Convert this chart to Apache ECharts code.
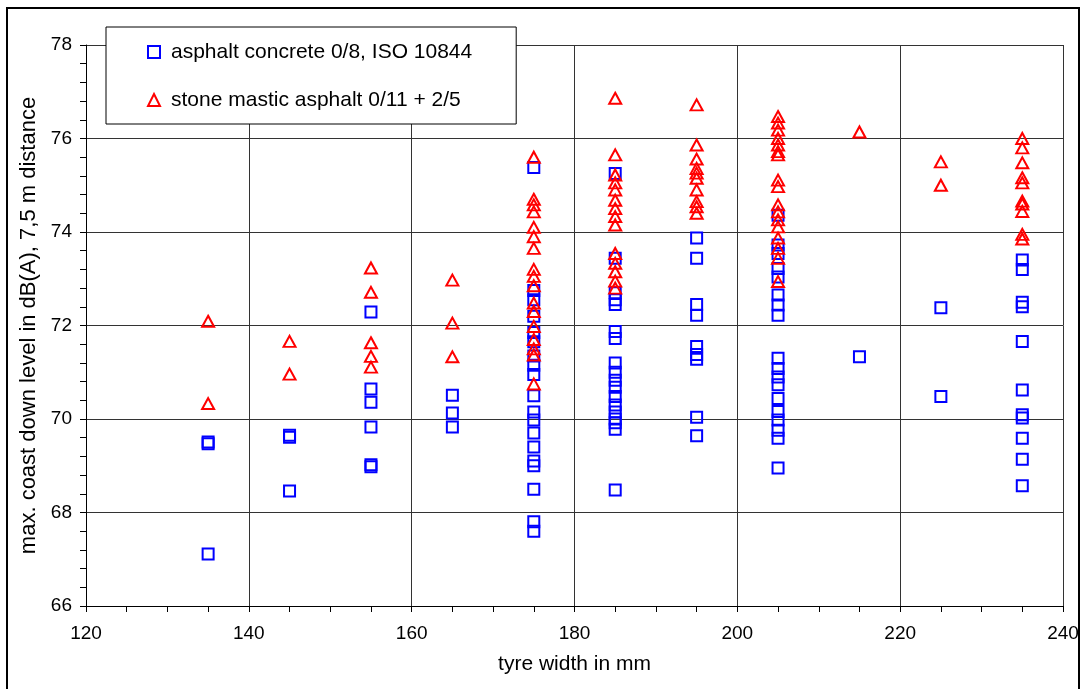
<!DOCTYPE html>
<html lang="en">
<head>
  <meta charset="UTF-8">
  <title>coast down level vs tyre width</title>
  <style>
    html, body { margin: 0; padding: 0; background: #fff; }
  </style>
</head>
<body>
  <div id="main" style="width: 1085px;height:689px;"></div>

  <script src="https://cdn.jsdelivr.net/npm/echarts@6/dist/echarts.min.js"></script>
  <script type="text/javascript">
    // tyre widths (mm) where measurements exist
    const widths = [135, 145, 155, 165, 175, 185, 195, 205, 215, 225, 235];

    // max. coast down level dB(A), read per tyre width
    const concreteLevels = [
      [69.51, 69.47, 67.11],
      [69.65, 69.61, 68.46],
      [72.29, 70.64, 70.36, 69.83, 69.02, 68.98],
      [70.51, 70.13, 69.83],
      [75.38, 72.75, 72.55, 72.2, 71.85, 71.65, 71.35, 71.15, 70.95, 70.5, 70.15, 69.98, 69.7, 69.4, 69.1, 69.0, 68.5, 67.8, 67.6],
      [75.25, 73.44, 72.7, 72.55, 72.45, 71.87, 71.72, 71.2, 71.0, 70.83, 70.68, 70.48, 70.3, 70.15, 70.0, 69.92, 69.78, 68.48],
      [73.87, 73.44, 72.45, 72.22, 71.55, 71.38, 71.28, 70.04, 69.64],
      [74.36, 73.72, 73.54, 73.22, 73.04, 72.65, 72.44, 72.22, 71.3, 71.08, 70.9, 70.73, 70.44, 70.16, 69.98, 69.76, 69.59, 68.95],
      [71.33],
      [72.38, 70.48],
      [73.4, 73.2, 72.5, 72.4, 71.66, 70.62, 70.09, 70.02, 69.59, 69.14, 68.57]
    ];

    const smaLevels = [
      [72.09, 70.33],
      [71.66, 70.96],
      [73.23, 72.71, 71.63, 71.34, 71.11],
      [72.97, 72.05, 71.33],
      [75.6, 74.7, 74.58, 74.43, 74.1, 73.9, 73.65, 73.2, 73.05, 72.85, 72.48, 72.3, 71.98, 71.7, 71.5, 71.37, 70.75],
      [76.86, 75.65, 75.22, 75.05, 74.9, 74.68, 74.5, 74.33, 74.15, 73.54, 73.33, 73.15, 72.95, 72.8],
      [76.72, 75.86, 75.56, 75.36, 75.26, 75.15, 74.9, 74.65, 74.54, 74.4],
      [76.47, 76.33, 76.18, 76.0, 75.86, 75.72, 75.65, 75.11, 74.97, 74.58, 74.43, 74.26, 74.11, 73.87, 73.65, 73.44, 72.94],
      [76.14],
      [75.5, 75.0],
      [76.0, 75.8, 75.48, 75.16, 75.05, 74.66, 74.6, 74.44, 73.95, 73.85]
    ];

    const seriesNames = ['asphalt concrete 0/8, ISO 10844', 'stone mastic asphalt 0/11 + 2/5'];

    function toPoints(levels) {
      return levels.flatMap((col, i) => col.map(v => [widths[i], v]));
    }

    var myChart = echarts.init(document.getElementById('main'));
    var font = 'Liberation Sans, Arial, sans-serif';

    var option = {
      animation: false,
      backgroundColor: '#fff',
      textStyle: { fontFamily: font, color: '#000' },
      graphic: [{
        type: 'rect',
        shape: { x: 7, y: 8, width: 1072, height: 700 },
        style: { fill: 'none', stroke: '#000', lineWidth: 2 },
        z: -1
      }],
      grid: {
        left: 86,
        right: 22,
        top: 45,
        bottom: 83
      },
      legend: {
        data: seriesNames,
        orient: 'vertical',
        left: 106,
        top: 27,
        padding: [14, 44, 13, 41],
        itemGap: 26,
        itemWidth: 12,
        itemHeight: 12,
        backgroundColor: '#fff',
        borderColor: '#000',
        borderWidth: 1,
        borderRadius: 0,
        textStyle: {
          fontFamily: font,
          fontSize: 21,
          color: '#000',
          lineHeight: 22,
          padding: [0, 0, 0, 6]
        }
      },
      xAxis: {
        type: 'value',
        min: 120,
        max: 240,
        interval: 20,
        name: 'tyre width in mm',
        nameLocation: 'middle',
        nameGap: 48,
        nameTextStyle: { fontSize: 21, color: '#000', fontFamily: font },
        axisLine: { lineStyle: { color: '#000', width: 1 } },
        axisTick: { show: true, length: 6, lineStyle: { color: '#000' } },
        minorTick: { show: true, splitNumber: 4, length: 6, lineStyle: { color: '#000' } },
        axisLabel: { fontSize: 19, color: '#000', margin: 18, fontFamily: font },
        splitLine: { show: true, lineStyle: { color: '#333', width: 1 } }
      },
      yAxis: {
        type: 'value',
        min: 66,
        max: 78,
        interval: 2,
        name: 'max. coast down level in dB(A), 7,5 m distance',
        nameLocation: 'middle',
        nameGap: 43,
        nameTextStyle: { fontSize: 22, color: '#000', fontFamily: font },
        axisLine: { show: true, lineStyle: { color: '#000', width: 1 } },
        axisTick: { show: true, length: 6, lineStyle: { color: '#000' } },
        minorTick: { show: true, splitNumber: 5, length: 6, lineStyle: { color: '#000' } },
        axisLabel: { fontSize: 19, color: '#000', margin: 14, fontFamily: font },
        splitLine: { show: true, lineStyle: { color: '#333', width: 1 } }
      },
      series: [
        {
          name: seriesNames[0],
          type: 'scatter',
          symbol: 'rect',
          symbolSize: 11,
          itemStyle: { color: 'rgba(0,0,0,0)', borderColor: '#0000ff', borderWidth: 2, opacity: 1 },
          data: toPoints(concreteLevels)
        },
        {
          name: seriesNames[1],
          type: 'scatter',
          symbol: 'triangle',
          symbolSize: [12, 11],
          itemStyle: { color: 'rgba(0,0,0,0)', borderColor: '#ff0000', borderWidth: 2, opacity: 1 },
          data: toPoints(smaLevels)
        }
      ]
    };

    myChart.setOption(option);
  </script>
</body>
</html>
